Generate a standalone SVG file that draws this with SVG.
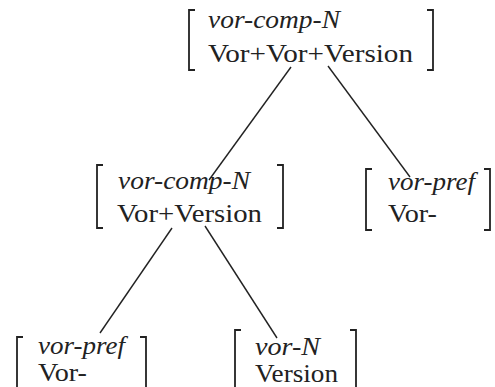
<svg xmlns="http://www.w3.org/2000/svg" width="495" height="387" viewBox="0 0 495 387">
<style>
.t{font-family:"Liberation Serif","DejaVu Serif",serif;font-size:26px;fill:#222}
.i{font-style:italic}
.b{fill:none;stroke:#222;stroke-width:1.8}
.e{stroke:#222;stroke-width:1.4;fill:none}
</style>
<rect width="495" height="387" fill="#fff"/>
<g id="connectors">
<line class="e" x1="291" y1="67" x2="209" y2="180"/>
<line class="e" x1="328" y1="66" x2="410" y2="177"/>
<line class="e" x1="172" y1="228" x2="100" y2="333"/>
<line class="e" x1="205" y1="226" x2="277" y2="338"/>
</g>
<g id="top">
<path class="b" d="M195 10H189V70H195M427 10H433V70H427"/>
<text class="t i" x="208" y="28" textLength="132" lengthAdjust="spacingAndGlyphs">vor-comp-N</text>
<text class="t" x="208" y="62" textLength="205" lengthAdjust="spacingAndGlyphs">Vor+Vor+Version</text>
</g>
<g id="mid-left">
<path class="b" d="M103 165H97V228H103M277 165H283V228H277"/>
<text class="t i" x="118" y="189" textLength="132" lengthAdjust="spacingAndGlyphs">vor-comp-N</text>
<text class="t" x="117" y="222" textLength="145" lengthAdjust="spacingAndGlyphs">Vor+Version</text>
</g>
<g id="mid-right">
<path class="b" d="M372 169H366V230H372M484 169H490V230H484"/>
<text class="t i" x="388" y="190" textLength="87" lengthAdjust="spacingAndGlyphs">vor-pref</text>
<text class="t" x="388" y="222" textLength="49" lengthAdjust="spacingAndGlyphs">Vor-</text>
</g>
<g id="bottom-left">
<path class="b" d="M23 337H17V395M140 337H146V395"/>
<text class="t i" x="38" y="354" textLength="87" lengthAdjust="spacingAndGlyphs">vor-pref</text>
<text class="t" x="38" y="381" textLength="49" lengthAdjust="spacingAndGlyphs">Vor-</text>
</g>
<g id="bottom-right">
<path class="b" d="M241 330H235V395M350 330H356V395"/>
<text class="t i" x="255" y="355" textLength="65" lengthAdjust="spacingAndGlyphs">vor-N</text>
<text class="t" x="255" y="382" textLength="83" lengthAdjust="spacingAndGlyphs">Version</text>
</g>
</svg>
